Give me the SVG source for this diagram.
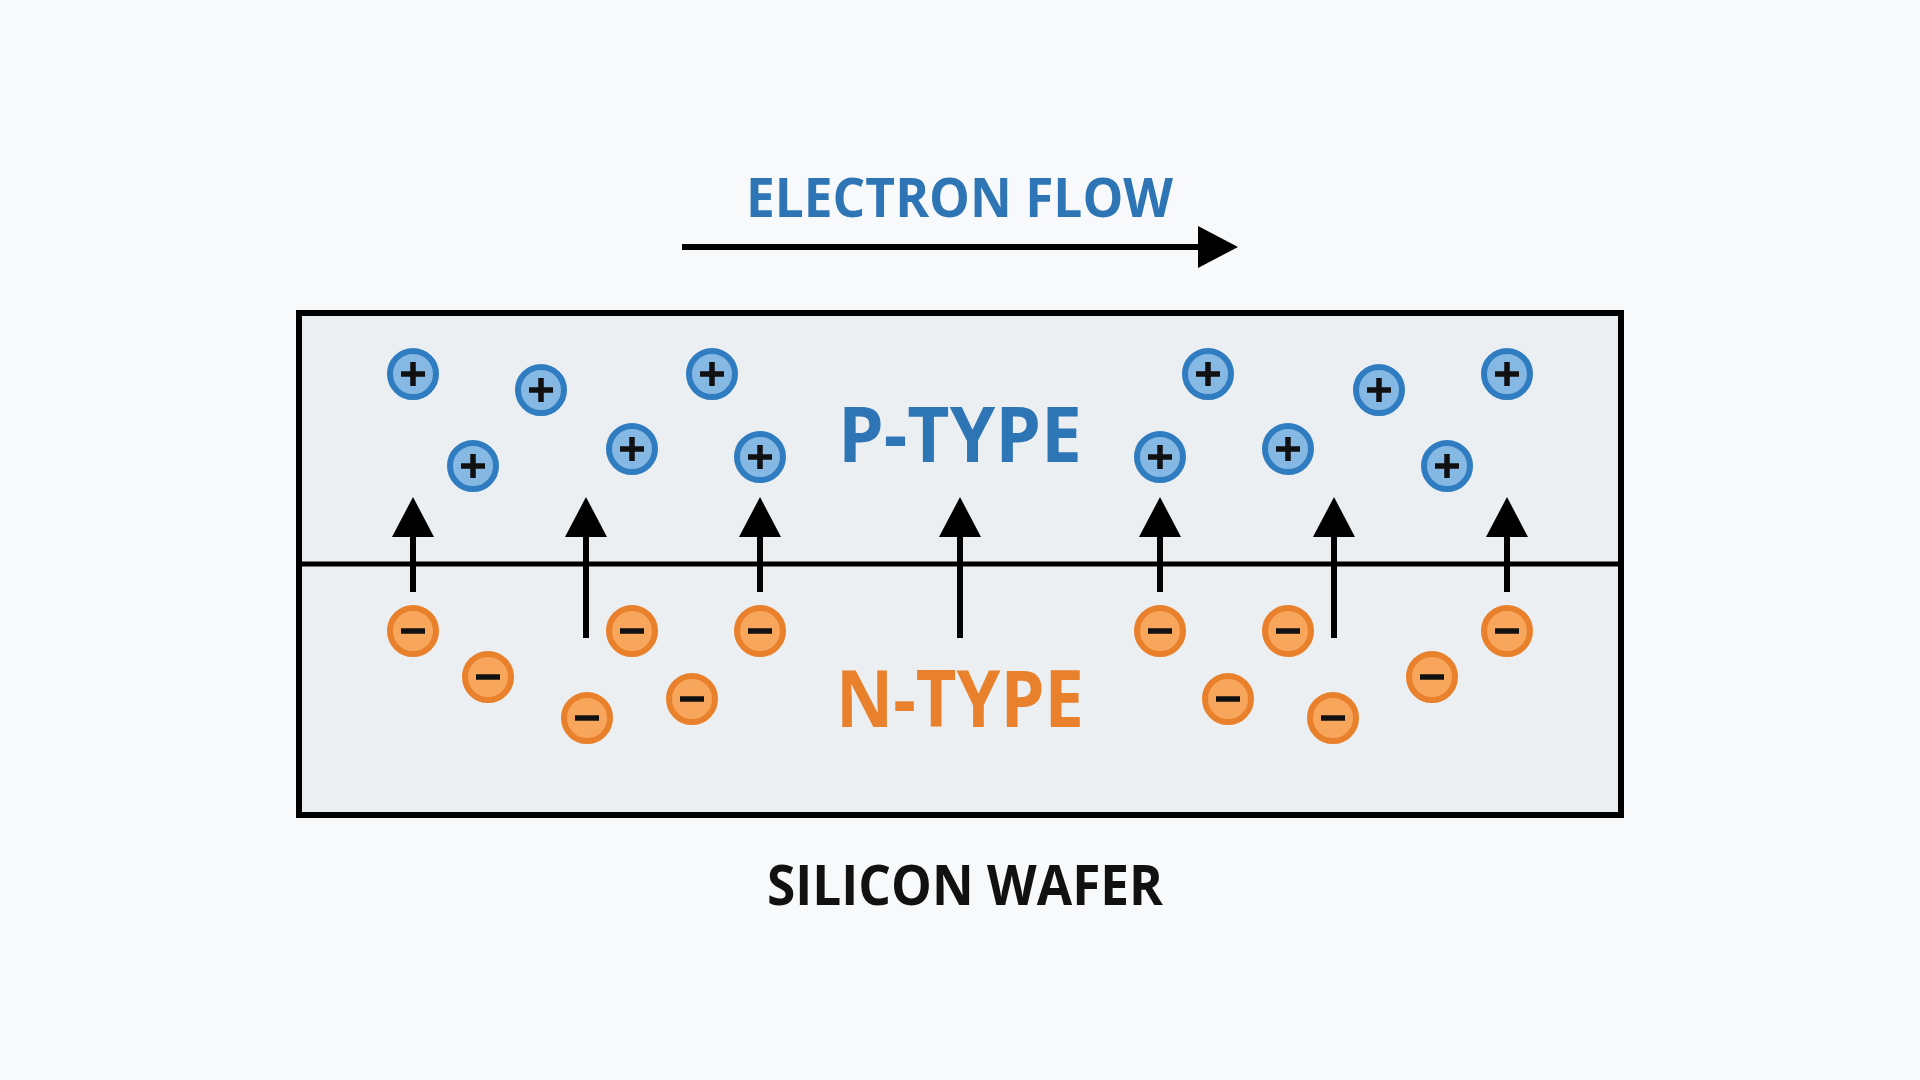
<svg xmlns="http://www.w3.org/2000/svg" width="1920" height="1080" viewBox="0 0 1920 1080">
<defs>
<style>
.lbl{font-family:"Open Sans","Liberation Sans",sans-serif;font-weight:700}
.shaft{stroke:#000;stroke-width:6;fill:none}
</style>
<marker id="ah" markerUnits="userSpaceOnUse" markerWidth="42" markerHeight="44" refX="0" refY="21" orient="auto" overflow="visible">
<path d="M0,0 L40,21 L0,42 Z" fill="#000"/>
</marker>
<g id="plus"><circle r="23" fill="#86b8e4" stroke="#2f7cc0" stroke-width="6"/><path d="M-12,0 H12 M0,-12 V12" stroke="#111" stroke-width="5.5"/></g>
<g id="minus"><circle r="23" fill="#f7a65c" stroke="#e8802c" stroke-width="6"/><path d="M-12,0 H12" stroke="#111" stroke-width="5.5"/></g>
</defs>
<rect width="1920" height="1080" fill="#f8f9fa"/>

<g id="title">
<text class="lbl" x="746" y="217" font-size="54" fill="#2e75b6" textLength="427" lengthAdjust="spacingAndGlyphs">ELECTRON FLOW</text>
</g>

<g id="wafer">
<rect x="299" y="313" width="1322" height="502" fill="#eceff1" stroke="#000" stroke-width="6"/>
<line x1="299" y1="564" x2="1621" y2="564" stroke="#000" stroke-width="5"/>
</g>

<g id="p-type">
<text class="lbl" x="838" y="462" font-size="77" fill="#2e75b6" textLength="244" lengthAdjust="spacingAndGlyphs">P-TYPE</text>
</g>
<g id="n-type">
<text class="lbl" x="836" y="727" font-size="79" fill="#e8802c" textLength="248" lengthAdjust="spacingAndGlyphs">N-TYPE</text>
</g>
<g id="label">
<text class="lbl" x="767" y="905" font-size="55" fill="#111" textLength="396" lengthAdjust="spacingAndGlyphs">SILICON WAFER</text>
</g>

<g id="holes">
<use href="#plus" x="413" y="374"/>
<use href="#plus" x="541" y="390"/>
<use href="#plus" x="473" y="466"/>
<use href="#plus" x="712" y="374"/>
<use href="#plus" x="632" y="449"/>
<use href="#plus" x="760" y="457"/>
<use href="#plus" x="1160" y="457"/>
<use href="#plus" x="1208" y="374"/>
<use href="#plus" x="1288" y="449"/>
<use href="#plus" x="1379" y="390"/>
<use href="#plus" x="1447" y="466"/>
<use href="#plus" x="1507" y="374"/>
</g>

<g id="electrons">
<use href="#minus" x="413" y="631"/>
<use href="#minus" x="488" y="677"/>
<use href="#minus" x="587" y="718"/>
<use href="#minus" x="632" y="631"/>
<use href="#minus" x="692" y="699"/>
<use href="#minus" x="760" y="631"/>
<use href="#minus" x="1160" y="631"/>
<use href="#minus" x="1228" y="699"/>
<use href="#minus" x="1288" y="631"/>
<use href="#minus" x="1333" y="718"/>
<use href="#minus" x="1432" y="677"/>
<use href="#minus" x="1507" y="631"/>
</g>

<g id="connectors">
<line class="shaft" x1="682" y1="247" x2="1198" y2="247" marker-end="url(#ah)"/>
<line class="shaft" x1="413" y1="592" x2="413" y2="537" marker-end="url(#ah)"/>
<line class="shaft" x1="586" y1="638" x2="586" y2="537" marker-end="url(#ah)"/>
<line class="shaft" x1="760" y1="592" x2="760" y2="537" marker-end="url(#ah)"/>
<line class="shaft" x1="960" y1="638" x2="960" y2="537" marker-end="url(#ah)"/>
<line class="shaft" x1="1160" y1="592" x2="1160" y2="537" marker-end="url(#ah)"/>
<line class="shaft" x1="1334" y1="638" x2="1334" y2="537" marker-end="url(#ah)"/>
<line class="shaft" x1="1507" y1="592" x2="1507" y2="537" marker-end="url(#ah)"/>
</g>
</svg>
